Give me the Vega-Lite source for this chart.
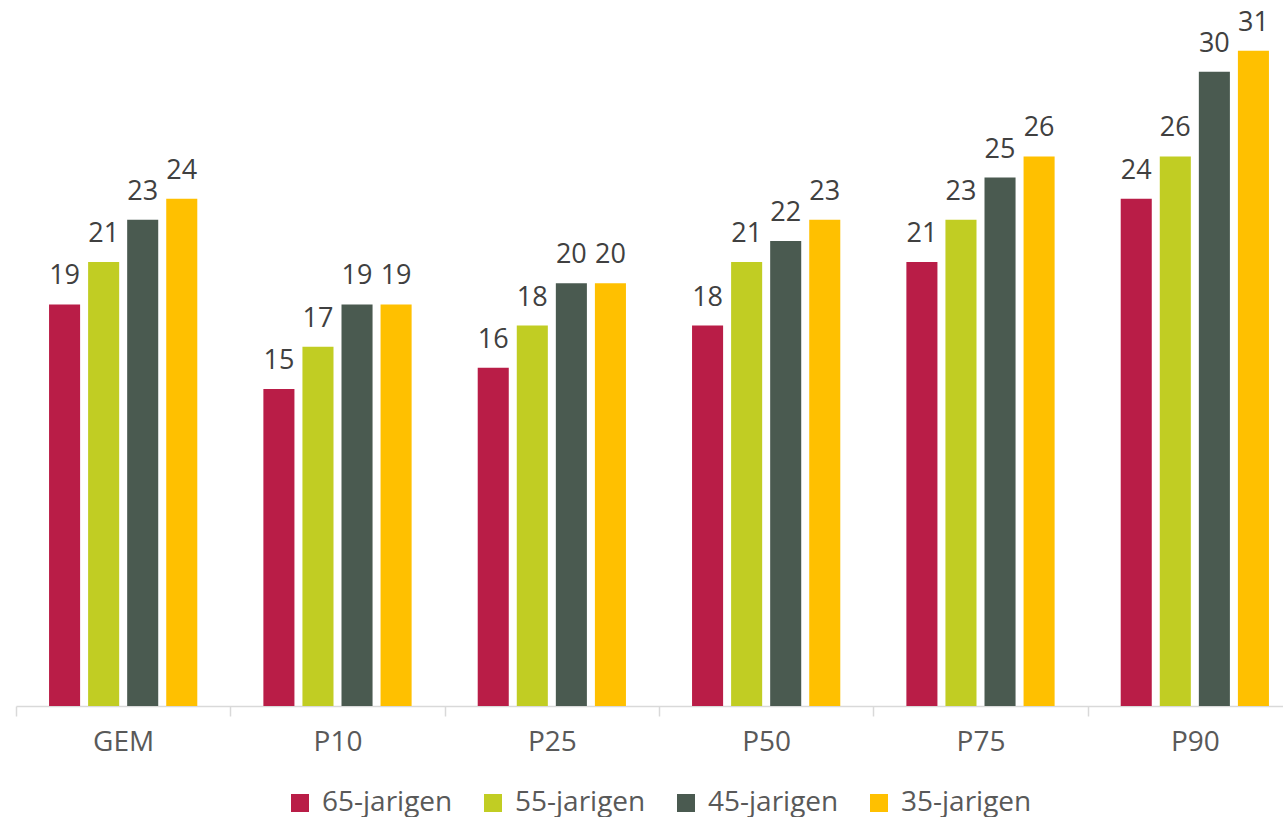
{
  "$schema": "https://vega.github.io/schema/vega-lite/v6.json",
  "width": 1268,
  "height": 706,
  "padding": {"left": 15, "top": 0, "right": 0, "bottom": 0},
  "autosize": {"type": "pad"},
  "config": {"view": {"stroke": null}, "font": "Open Sans"},
  "data": {
    "values": [
      {"cat": "GEM", "grp": "65-jarigen", "v": 19},
      {"cat": "GEM", "grp": "55-jarigen", "v": 21},
      {"cat": "GEM", "grp": "45-jarigen", "v": 23},
      {"cat": "GEM", "grp": "35-jarigen", "v": 24},
      {"cat": "P10", "grp": "65-jarigen", "v": 15},
      {"cat": "P10", "grp": "55-jarigen", "v": 17},
      {"cat": "P10", "grp": "45-jarigen", "v": 19},
      {"cat": "P10", "grp": "35-jarigen", "v": 19},
      {"cat": "P25", "grp": "65-jarigen", "v": 16},
      {"cat": "P25", "grp": "55-jarigen", "v": 18},
      {"cat": "P25", "grp": "45-jarigen", "v": 20},
      {"cat": "P25", "grp": "35-jarigen", "v": 20},
      {"cat": "P50", "grp": "65-jarigen", "v": 18},
      {"cat": "P50", "grp": "55-jarigen", "v": 21},
      {"cat": "P50", "grp": "45-jarigen", "v": 22},
      {"cat": "P50", "grp": "35-jarigen", "v": 23},
      {"cat": "P75", "grp": "65-jarigen", "v": 21},
      {"cat": "P75", "grp": "55-jarigen", "v": 23},
      {"cat": "P75", "grp": "45-jarigen", "v": 25},
      {"cat": "P75", "grp": "35-jarigen", "v": 26},
      {"cat": "P90", "grp": "65-jarigen", "v": 24},
      {"cat": "P90", "grp": "55-jarigen", "v": 26},
      {"cat": "P90", "grp": "45-jarigen", "v": 30},
      {"cat": "P90", "grp": "35-jarigen", "v": 31}
    ]
  },
  "encoding": {
    "x": {
      "field": "cat",
      "type": "nominal",
      "sort": ["GEM", "P10", "P25", "P50", "P75", "P90"],
      "scale": {"range": [0, 1286], "paddingInner": 0, "paddingOuter": 0},
      "axis": {
        "title": null,
        "labelAngle": 0,
        "labelFontSize": 28,
        "labelColor": "#595959",
        "labelBaseline": "alphabetic",
        "labelPadding": 34,
        "domainColor": "#d9d9d9",
        "domainWidth": 1.5,
        "tickColor": "#d9d9d9",
        "tickWidth": 1.5,
        "tickSize": 10,
        "tickBand": "extent"
      }
    },
    "xOffset": {
      "field": "grp",
      "type": "nominal",
      "sort": ["65-jarigen", "55-jarigen", "45-jarigen", "35-jarigen"],
      "scale": {"paddingInner": 0.205, "paddingOuter": 0.846}
    },
    "y": {
      "field": "v",
      "type": "quantitative",
      "scale": {"domain": [0, 33.4]},
      "axis": null
    }
  },
  "layer": [
    {
      "mark": {"type": "bar"},
      "encoding": {
        "color": {
          "field": "grp",
          "type": "nominal",
          "sort": ["65-jarigen", "55-jarigen", "45-jarigen", "35-jarigen"],
          "scale": {
            "domain": ["65-jarigen", "55-jarigen", "45-jarigen", "35-jarigen"],
            "range": ["#B91D47", "#C1CD23", "#4A5A50", "#FFC000"]
          },
          "legend": {
            "title": null,
            "orient": "none",
            "direction": "horizontal",
            "legendX": 270,
            "legendY": 789,
            "symbolType": "square",
            "symbolSize": 324,
            "symbolStrokeWidth": 0,
            "labelFontSize": 28,
            "labelColor": "#595959",
            "labelOffset": 8,
            "labelLimit": 0,
            "columnPadding": 26
          }
        }
      }
    },
    {
      "mark": {"type": "text", "baseline": "alphabetic", "dy": -20, "fontSize": 27, "color": "#404040"},
      "encoding": {"text": {"field": "v", "type": "quantitative"}}
    }
  ]
}
